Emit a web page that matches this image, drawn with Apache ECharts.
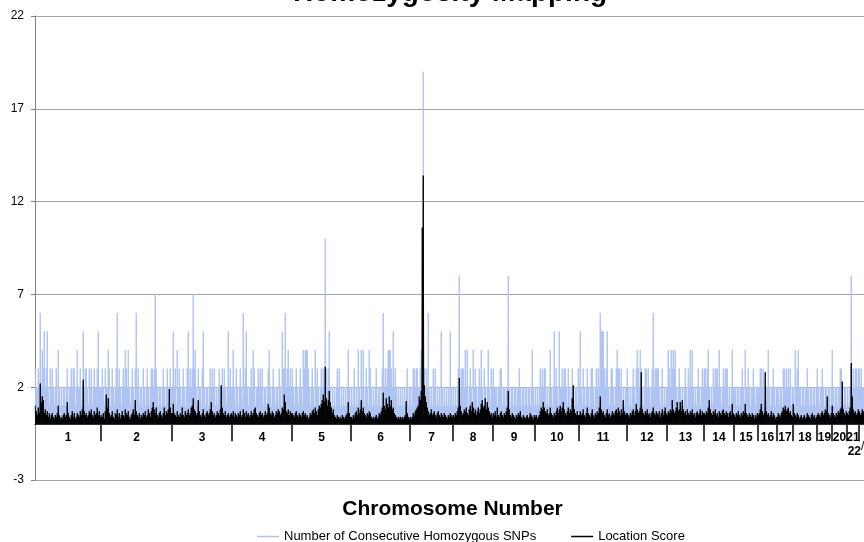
<!DOCTYPE html>
<html><head><meta charset="utf-8">
<script src="https://cdn.jsdelivr.net/npm/echarts@6/dist/echarts.min.js"></script>
<style>html,body{margin:0;padding:0;background:#fff}#c{width:864px;height:542px}</style>
</head><body><div id="c"></div>
<script>
const chartTitle = 'Homozygosity Mapping';
const xAxisTitle = 'Chromosome Number';
const seriesNames = ['Number of Consecutive Homozygous SNPs', 'Location Score'];
const chromosomes = ['1','2','3','4','5','6','7','8','9','10','11','12','13','14','15','16','17','18','19','20','21','22'];
const yTicks = [-3, 2, 7, 12, 17, 22];

// Number of consecutive homozygous SNPs (per chromosome, read left to right)
const snpCounts = [
[3,2,2,3,2,6,2,4,3,5,2,3,5,2,1,3,2,3,2,1,2,3,1,4,2,1,2,1,2,2,1,2,3,1,2,2,3,2,3,3,1,2,4,2,2,3,1,2,5,2,3,3,2,1,3,2,3,1,2,3,2,2,3,5,2,2],
[2,3,2,1,3,2,2,4,3,1,2,3,2,1,2,3,6,2,3,2,1,2,3,2,4,3,2,4,2,1,2,3,2,1,3,6,2,3,1,2,2,1,3,2,1,2,3,2,1,2,3,3,2,3,7,3,2,1,2,2,1,2,3,2,1,2,3,1,2,3,2],
[2,5,2,3,1,4,2,3,2,1,2,3,2,1,2,3,5,2,3,2,3,7,3,4,2,1,3,2,2,1,3,5,2,1,2,2,1,2,3,2,3,2,3,1,2,1,2,3,2,1,3,2,3,2,1,2,5,2,3,2],
[2,4,2,1,3,2,1,2,3,2,1,6,2,3,5,2,1,2,2,3,2,4,3,1,2,2,3,2,3,2,3,1,2,2,1,2,3,4,2,1,2,3,2,1,2,2,1,3,2,1,5,3,3,6,2,3,4,2,3,2],
[3,2,1,2,3,2,1,2,3,2,1,4,3,4,4,4,3,2,1,2,3,2,1,4,2,3,2,1,2,3,2,3,2,10,3,2,3,5,2,1,2,1,2,1,2,3,2,3,1,2,1,2,1,2,1,2,4,2,1],
[2,1,2,3,1,2,1,4,2,1,4,2,4,1,2,3,2,1,4,3,2,1,2,1,2,3,1,2,2,1,2,3,6,2,3,2,3,4,4,4,3,2,5,2,3,2,1,2,1,2,1,2,1,2,1,2,3,1,2],
[2,1,2,3,3,2,3,3,2,2,3,4,3,19,3,2,3,2,6,2,1,2,1,3,2,3,1,2,1,2,1,5,2,1,2,1,2,1,2,1,5,2,1],
[2,1,2,1,2,3,8,2,3,3,3,2,4,2,4,1,2,3,2,1,4,2,3,2,1,2,3,2,4,2,1,3,2,1,2,4,2,1,3,2],
[3,2,2,2,1,2,2,3,3,1,2,2,1,2,2,8,2,1,2,2,1,2,2,1,2,2,3,2,1,2,2,1,2,2,1,2,2,1,2,4,2,1],
[2,1,2,1,2,3,2,3,2,3,3,1,2,1,2,4,2,1,2,5,2,3,2,1,5,2,2,3,2,3,3,2,1,3,2,1,2,3,2,1,2,2,1,3],
[2,5,2,1,3,2,1,2,3,2,1,2,3,3,2,1,2,3,2,3,2,6,5,5,5,3,2,3,5,2,1,2,3,3,2,1,2,3,4,3,3,2,3,1,2,1,2,2],
[3,2,1,2,1,2,3,2,1,3,4,3,2,4,3,2,1,2,3,3,2,3,2,1,2,3,6,2,3,3,3,3,2,1,2,3,1,2,1,2],
[2,4,3,2,4,3,4,3,4,2,1,2,3,2,1,2,1,2,3,2,1,3,2,4,2,4,2,1,2,1,2,3,2,1,2,3,2],
[3,3,2,3,4,2,1,2,1,3,2,3,3,3,2,4,2,1,2,3,2,3,3,3,1,2,1,2,4,2],
[2,2,1,2,2,1,2,2,3,2,1,4,2,2,3,2,1,2,2,3,2,1,2,2],
[2,2,3,3,2,3,1,2,2,2,4,2,1,2,2,3,2,1,2],
[2,2,1,2,2,1,3,3,2,3,2,3,2,3,1,2],
[2,1,4,2,3,4,2,2,1,2,2,1,2,2,3,2,1,2,2,1,2,2,1,2],
[3,2,1,2,2,3,2,1,2,2,1,2,2,1,2],
[4,2,1,2,2,1,2,2,3,3,2,1,2,2,1],
[2,1,2,2,8,2,3,2,3,3,2,3],
[3,2,3,2,2,1,2,1,2,1,2]
];

// Location score (per chromosome, same positions)
const locationScores = [
[1.0,0.7,0.5,0.9,0.6,2.2,1.2,1.5,1.3,0.6,0.8,0.5,0.7,0.4,0.6,0.3,0.5,0.6,0.4,0.3,0.5,0.4,0.6,1.0,0.5,0.3,0.4,0.3,0.5,0.6,0.4,0.5,1.2,0.6,0.4,0.3,0.5,0.7,0.4,0.6,0.3,0.4,0.6,0.5,0.4,0.7,0.5,0.8,2.4,0.7,0.5,0.6,0.4,0.5,0.7,0.6,0.8,0.5,0.4,0.7,0.5,0.6,0.9,0.5,0.7,0.4],
[0.5,0.4,0.6,0.3,0.7,1.6,0.9,1.4,0.6,0.4,0.5,0.7,0.4,0.3,0.6,0.5,0.8,0.4,0.6,0.3,0.5,0.7,0.5,0.4,0.8,0.6,0.5,0.7,0.4,0.3,0.5,0.6,0.8,0.5,1.3,0.7,0.5,0.4,0.6,0.3,0.5,0.4,0.6,0.5,0.7,0.4,0.5,0.8,0.6,0.4,0.7,0.9,1.2,0.8,0.6,0.9,0.5,0.4,0.6,0.7,0.5,0.4,0.6,0.9,0.5,0.7,0.6,0.8,1.9,0.9,0.6],
[0.6,1.1,0.6,0.5,0.4,0.7,0.5,0.4,0.6,0.5,0.9,0.5,0.4,0.7,0.5,0.6,0.8,0.5,0.6,0.9,1.0,1.4,0.8,0.7,0.5,0.6,1.3,0.7,0.5,0.4,0.6,0.8,0.5,0.4,0.6,0.7,0.5,0.6,0.8,1.2,0.7,0.5,0.6,0.4,0.5,0.7,0.6,0.5,0.8,2.1,0.9,0.6,0.5,0.7,0.4,0.5,0.6,0.4,0.5,0.6],
[0.5,0.7,0.4,0.6,0.5,0.4,0.6,0.5,0.7,0.4,0.5,0.8,0.6,0.4,0.7,0.5,0.6,0.4,0.5,0.7,0.5,0.6,0.8,0.9,0.6,0.5,0.4,0.6,0.7,0.5,0.6,0.4,0.5,0.7,0.5,0.6,1.1,0.9,0.6,0.5,0.7,0.6,0.4,0.5,0.7,0.6,0.8,0.7,0.5,0.6,0.9,0.8,1.6,1.2,0.7,0.6,0.8,0.5,0.7,0.6],
[0.6,0.5,0.4,0.6,0.7,0.5,0.4,0.6,0.5,0.4,0.6,0.7,0.5,0.6,0.4,0.5,0.3,0.4,0.6,0.5,0.7,0.8,0.6,0.9,0.7,0.5,0.8,1.0,0.9,1.1,1.3,1.6,1.2,3.1,1.4,1.0,1.3,1.8,1.2,0.9,0.6,0.8,0.5,0.4,0.3,0.5,0.4,0.3,0.4,0.3,0.5,0.4,0.3,0.4,0.5,0.6,1.2,0.6,0.4],
[0.4,0.3,0.5,0.4,0.6,0.7,0.5,0.9,0.6,0.8,1.3,0.7,0.9,0.6,0.5,0.4,0.6,0.5,0.7,0.6,0.4,0.3,0.4,0.3,0.4,0.5,0.3,0.4,0.6,0.5,0.7,0.9,1.7,1.0,0.8,1.4,1.1,0.9,1.5,1.0,1.3,0.8,0.9,0.6,0.5,0.4,0.3,0.4,0.3,0.4,0.3,0.4,0.3,0.4,0.5,1.25,0.6,0.4,0.3],
[0.4,0.3,0.4,0.6,0.5,0.7,0.8,0.9,1.0,1.5,1.3,1.8,10.6,13.4,2.1,1.5,1.2,0.9,0.7,0.5,0.6,0.8,0.5,0.6,0.7,0.5,0.4,0.6,0.7,0.5,0.4,0.6,0.5,0.4,0.6,0.5,0.4,0.3,0.5,0.4,0.6,0.5,0.4],
[0.5,0.4,0.6,0.5,0.7,0.9,2.5,1.0,0.7,0.5,0.6,0.8,0.7,0.9,0.6,0.5,0.8,1.0,0.7,1.2,0.9,0.6,0.8,0.5,0.7,0.9,0.6,0.8,1.1,1.3,0.9,1.0,1.4,0.8,1.2,0.9,0.7,0.5,0.6,0.4],
[0.6,0.5,0.7,0.4,0.9,0.5,0.4,0.6,0.7,0.5,0.4,0.6,0.5,0.7,0.9,1.8,0.8,0.5,0.4,0.6,0.5,0.4,0.3,0.5,0.4,0.6,0.5,0.7,0.4,0.3,0.5,0.4,0.3,0.4,0.5,0.3,0.4,0.6,0.5,0.4,0.3,0.5],
[0.4,0.5,0.3,0.4,0.5,0.7,0.9,0.8,1.2,0.9,0.7,0.6,0.8,0.5,0.6,0.9,0.6,0.5,0.4,0.6,0.5,0.7,0.9,0.6,0.8,1.0,0.7,0.9,1.2,0.8,0.6,0.5,0.7,0.9,0.6,0.8,0.7,1.4,2.1,0.8,0.6,0.5,0.7,0.5],
[0.5,0.7,0.5,0.6,0.8,0.5,0.4,0.6,0.9,0.6,0.5,0.4,0.6,0.8,0.5,0.4,0.6,0.5,0.7,0.6,0.9,1.5,0.8,0.6,0.7,0.5,0.4,0.6,0.8,0.5,0.6,0.4,0.5,0.7,0.6,0.5,0.7,0.8,0.6,0.9,0.7,0.5,0.8,0.6,1.3,0.7,0.5,0.6],
[0.6,0.5,0.4,0.6,0.5,0.7,0.8,0.5,0.7,1.1,0.8,0.6,0.7,0.9,2.8,0.8,0.6,0.5,0.7,0.6,0.8,0.5,0.6,0.4,0.6,0.7,0.9,0.6,0.5,0.7,0.6,0.5,0.7,0.4,0.6,0.8,0.5,0.7,0.9,0.6],
[0.5,0.7,0.6,0.8,0.7,1.3,0.8,0.6,0.7,0.9,1.2,0.7,0.8,1.2,0.7,1.3,0.8,0.6,0.7,0.5,0.8,0.6,0.5,0.7,0.6,0.8,0.5,0.6,0.4,0.6,0.7,0.5,0.6,0.8,0.5,0.7,0.6],
[0.6,0.5,0.7,0.6,0.9,1.3,0.8,0.6,0.5,0.7,0.6,0.8,0.5,0.6,0.4,0.7,0.6,0.5,0.7,0.8,0.6,0.5,0.7,0.6,0.4,0.6,0.7,0.5,1.1,0.6],
[0.5,0.4,0.6,0.5,0.7,0.5,0.4,0.6,0.5,0.7,0.6,1.1,0.6,0.5,0.4,0.6,0.5,0.4,0.6,0.5,0.3,0.5,0.4,0.6],
[0.5,0.6,0.8,1.1,0.7,0.5,0.6,2.8,0.7,0.5,0.6,0.4,0.5,0.7,0.4,0.6,0.5,0.3,0.4],
[0.4,0.6,0.5,0.4,0.6,0.7,0.9,0.8,1.0,0.7,0.8,0.9,0.6,0.7,0.5,0.4],
[1.1,0.6,0.5,0.4,0.6,0.5,0.3,0.4,0.5,0.3,0.4,0.5,0.3,0.4,0.6,0.5,0.4,0.3,0.5,0.6,0.4,0.5,0.3,0.4],
[0.5,0.6,0.5,0.4,0.6,0.7,0.5,0.6,0.8,0.7,1.5,0.6,0.5,0.4,0.6],
[1.0,0.6,0.5,0.4,0.6,0.5,0.7,0.6,0.8,0.9,2.3,0.8,0.6,0.5,0.7],
[0.6,0.5,0.7,0.9,3.3,1.5,0.8,0.6,0.7,0.5,0.6,0.8],
[0.7,0.5,0.6,0.8,0.7,0.5,0.6,0.4,0.5,0.6,0.5]
];

// ---- build series tables from the arrays ----
const snpLine = [], scoreLine = [], bounds = [], centers = [];
let pos = 0;
chromosomes.forEach((name, k) => {
  const s = snpCounts[k], l = locationScores[k];
  for (let i = 0; i < s.length; i++) {
    snpLine.push([pos + i + 0.25, s[i]], [pos + i + 0.75, 0]);
    scoreLine.push([pos + i + 0.25, l[i]], [pos + i + 0.75, 0]);
  }
  centers.push(pos + s.length / 2);
  pos += s.length;
  bounds.push(pos);
});
const total = pos;
const yMin = yTicks[0], yMax = yTicks[yTicks.length - 1];
const lastIdx = chromosomes.length - 1;

const FONT = '"Liberation Sans", Arial, Helvetica, sans-serif';
const chart = echarts.init(document.getElementById('c'), null, {renderer: 'canvas'});

const gridLeft = 35, gridTop = 16, gridBottom = 62, H = 542;
const plotH = H - gridTop - gridBottom;
// second (overlay) grid whose bottom edge sits on the value 0 of the main y axis
const zeroBottom = gridBottom + plotH * (0 - yMin) / (yMax - yMin);

function nearestChrom(v) {
  let k = 0, best = Infinity;
  centers.forEach((c, j) => { const d = Math.abs(c - v); if (d < best) { best = d; k = j; } });
  return k;
}

chart.setOption({
  animation: false,
  backgroundColor: '#ffffff',
  textStyle: {fontFamily: FONT},
  graphic: [{
    type: 'text', x: 450, y: -7, z: 10,
    style: {text: chartTitle, font: 'bold 28px ' + FONT, fill: '#000', align: 'center', verticalAlign: 'middle'}
  }],
  legend: {
    left: 252, top: 525, itemWidth: 22, itemHeight: 1.5, itemGap: 35, icon: 'rect',
    textStyle: {fontSize: 13, color: '#000', fontFamily: FONT},
    data: seriesNames
  },
  grid: [
    {left: gridLeft, right: 864 - gridLeft - total, top: gridTop, bottom: gridBottom, containLabel: false, outerBoundsMode: 'none'},
    {left: gridLeft, right: 864 - gridLeft - total, top: gridTop, bottom: zeroBottom, containLabel: false, outerBoundsMode: 'none'}
  ],
  xAxis: [{
    gridIndex: 0, type: 'value', min: 0, max: total,
    axisLine: {onZero: true, lineStyle: {color: '#000', width: 1}},
    axisTick: {show: false}, axisLabel: {show: false}, splitLine: {show: false}
  }, {
    gridIndex: 1, type: 'value', min: 0, max: total, position: 'bottom',
    axisLine: {show: false},
    axisTick: {show: true, customValues: bounds.slice(0, bounds.length - 1), length: 17, inside: false, lineStyle: {color: '#000', width: 1.5}},
    axisLabel: {
      customValues: centers.slice(0, lastIdx), margin: 7, fontSize: 12, fontWeight: 'bold', color: '#000', fontFamily: FONT,
      showMinLabel: true, showMaxLabel: true, hideOverlap: false,
      formatter: function (v) { return chromosomes[nearestChrom(v)]; }
    },
    splitLine: {show: false},
    name: xAxisTitle, nameLocation: 'middle', nameGap: 74,
    nameTextStyle: {fontSize: 21, fontWeight: 'bold', color: '#000', fontFamily: FONT}
  }, {
    gridIndex: 1, type: 'value', min: 0, max: total, position: 'bottom',
    axisLine: {show: false}, axisTick: {show: false}, splitLine: {show: false},
    axisLabel: {
      customValues: [centers[lastIdx]], margin: 7, showMinLabel: true, showMaxLabel: true,
      formatter: function (v) { return '{c|' + chromosomes[nearestChrom(v)] + '}{s|/}'; },
      rich: {
        c: {fontSize: 12, fontWeight: 'bold', color: '#000', fontFamily: FONT, padding: [14, 0, 0, 0], verticalAlign: 'bottom'},
        s: {fontSize: 12, color: '#000', fontFamily: FONT, padding: [0, 17, 5, 0], verticalAlign: 'bottom'}
      }
    }
  }],
  yAxis: [{
    gridIndex: 0, type: 'value', min: yMin, max: yMax, interval: yTicks[1] - yTicks[0],
    axisLine: {show: true, lineStyle: {color: '#808080', width: 1}},
    axisTick: {show: true, length: 4, lineStyle: {color: '#808080'}},
    axisLabel: {fontSize: 12, color: '#000', margin: 11, fontFamily: FONT},
    splitLine: {show: true, lineStyle: {color: '#a6a6a6', width: 1}}
  }, {
    gridIndex: 1, type: 'value', min: 0, max: 1, show: false
  }],
  series: [
    {name: seriesNames[0], type: 'line', xAxisIndex: 0, yAxisIndex: 0, data: snpLine, symbol: 'none', showSymbol: false,
     lineStyle: {color: '#aec3f3', width: 1}, itemStyle: {color: '#aec3f3'}, z: 2, silent: true},
    {name: seriesNames[1], type: 'line', xAxisIndex: 0, yAxisIndex: 0, data: scoreLine, symbol: 'none', showSymbol: false,
     lineStyle: {color: '#000000', width: 1}, itemStyle: {color: '#000000'}, z: 3, silent: true}
  ]
});
</script>
</body></html>
